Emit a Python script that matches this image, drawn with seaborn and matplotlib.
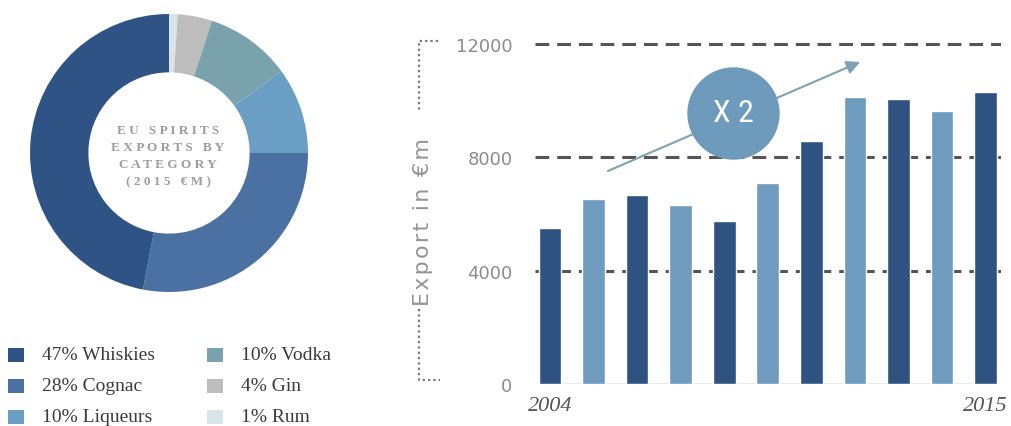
import matplotlib
matplotlib.use("Agg")
import matplotlib.pyplot as plt
from matplotlib.lines import Line2D
from matplotlib.patches import Rectangle
from matplotlib import font_manager
import seaborn as sns
import pandas as pd

# ---- data -------------------------------------------------------------
categories = ["Whiskies", "Cognac", "Liqueurs", "Vodka", "Gin", "Rum"]
shares = [47, 28, 10, 10, 4, 1]
cat_colors = ["#2e5384", "#4a71a1", "#6a9ec3", "#7aa2ad", "#bdbdbd", "#d9e4e8"]

bar_index = list(range(11))
exports = [5500, 6530, 6680, 6330, 5760, 7090, 8560, 10140, 10050, 9640, 10300]
bar_colors = ["#2f5381", "#6f9cbe"] * 6
year_labels = ["2004", "2015"]
y_ticks = [0, 4000, 8000, 12000]

W, H = 1011, 427
sns.set_theme(style="white")
plt.rcParams["font.family"] = ["DejaVu Sans"]
fig = plt.figure(figsize=(W / 100, H / 100), dpi=100)
fig.patch.set_facecolor("white")


def fx(px):
    return px / W


def fy(py):
    return 1 - py / H


def spaced(s, gap="\u200a"):
    return gap.join(list(s))


# pick a narrow face for the badge if one is available
fonts = font_manager.fontManager.ttflist
badge_family, badge_stretch = "DejaVu Sans", "normal"
for f in fonts:
    if f.name in ("Roboto Condensed", "Open Sans Condensed", "Liberation Sans Narrow",
                  "Noto Sans Condensed", "DejaVu Sans Condensed"):
        badge_family = f.name
        break
else:
    for f in fonts:
        if f.name in ("Noto Sans", "DejaVu Sans", "Open Sans") and str(f.stretch) in ("condensed", "semi-condensed", "extra-condensed", "75", "87.5"):
            badge_family, badge_stretch = f.name, f.stretch
            break

# ---- donut ------------------------------------------------------------
cx, cy, r = 169, 154, 139
ax_pie = fig.add_axes([fx(cx - r), fy(cy + r), 2 * r / W, 2 * r / H])
ax_pie.pie(shares[::-1], colors=cat_colors[::-1], startangle=90,
           counterclock=False, radius=1.0,
           wedgeprops=dict(width=0.42, linewidth=0))
ax_pie.set_xlim(-1, 1)
ax_pie.set_ylim(-1, 1)
ax_pie.set_aspect("equal")
ax_pie.axis("off")

centre_lines = ["EU SPIRITS", "EXPORTS BY", "CATEGORY", "(2015 €M)"]
for i, line in enumerate(centre_lines):
    fig.text(fx(168), fy(131 + 17 * i), " ".join(list(line)),
             ha="center", va="center", fontsize=9.5, color="#9c9c9c",
             fontweight="bold", family=["Liberation Serif", "DejaVu Serif"])

# ---- legend -------------------------------------------------------------
col_x = [8, 207]
row_y = [356, 387, 418]
for i, (name, pct, c) in enumerate(zip(categories, shares, cat_colors)):
    col, row = divmod(i, 3)
    x0 = col_x[col]
    y0 = row_y[row]
    fig.add_artist(Rectangle((fx(x0), fy(y0 + 7)), 16 / W, 14 / H,
                             transform=fig.transFigure, color=c, lw=0))
    fig.text(fx(x0 + 34), fy(y0), f"{pct}% {name}", ha="left", va="center",
             fontsize=14, color="#3a3a3a", family=["Liberation Serif"])

# ---- bar chart ----------------------------------------------------------
step = 43.55
x_first = 550
y_zero = 385
px_per_unit = 340 / 12000
xlo, xhi = -0.35, 10.35
ylo, yhi = 0, 12300
left_px = x_first + xlo * step
right_px = x_first + xhi * step
top_px = y_zero - yhi * px_per_unit
ax = fig.add_axes([fx(left_px), fy(y_zero), (right_px - left_px) / W,
                   (y_zero - top_px) / H])

df = pd.DataFrame({"idx": bar_index, "value": exports})
sns.barplot(data=df, x="idx", y="value", hue="idx",
            palette=bar_colors[:len(bar_index)], legend=False,
            width=0.52, ax=ax, zorder=2, saturation=1)

for t in y_ticks[1:]:
    ax.axhline(t, color="#555555", lw=2.2, dashes=(4.5, 2.6), zorder=0.5)
ax.plot([-0.26, 10.26], [0, 0], color="#8899a8", lw=1, zorder=1)

ax.set_xlim(xlo, xhi)
ax.set_ylim(ylo, yhi)
ax.set_xticks([bar_index[0], bar_index[-1]])
ax.set_xticklabels(year_labels, fontsize=16, style="italic",
                   color="#555555", family=["Liberation Serif"])
ax.set_yticks(y_ticks)
ax.set_yticklabels([str(v) for v in y_ticks], fontsize=13, color="#8c8c8c",
                   family=["DejaVu Sans"])
ax.tick_params(axis="y", length=0, pad=16)
ax.tick_params(axis="x", length=0, pad=9)
ax.set_xlabel("")
ax.set_ylabel("")
for s in ax.spines.values():
    s.set_visible(False)
ax.set_facecolor("none")

# growth arrow and badge
ax.annotate("", xy=(7.12, 11366), xytext=(1.33, 7518),
            arrowprops=dict(arrowstyle="-|>", color="#7fa1b6", lw=1.5,
                            mutation_scale=20, shrinkA=0, shrinkB=0),
            zorder=2.5)
ax.scatter([4.21], [9566], s=66.5 ** 2, color="#6e9bbb", lw=0, zorder=4,
           clip_on=False)
ax.text(4.21, 9566, "X 2", ha="center", va="center", color="white",
        fontsize=23, fontstretch=badge_stretch, zorder=5,
        family=[badge_family])

# y-axis title and dotted bracket
fig.text(fx(423), fy(222), spaced("Export in €m"), rotation=90, ha="center",
         va="center", fontsize=16, color="#949494", family=["DejaVu Sans"])
dot = dict(color="#777777", lw=1.6, linestyle=(0, (1, 1.4)))
fig.add_artist(Line2D([fx(438), fx(419), fx(419)], [fy(42), fy(42), fy(112)],
                      transform=fig.transFigure, **dot))
fig.add_artist(Line2D([fx(419), fx(419), fx(440)], [fy(310), fy(381), fy(381)],
                      transform=fig.transFigure, **dot))

fig.savefig("out.png", dpi=100, facecolor="white")
